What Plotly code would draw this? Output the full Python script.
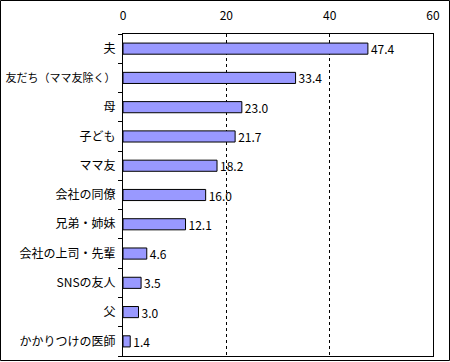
import plotly.graph_objects as go

categories = ["夫", "友だち（ママ友除く）", "母", "子ども", "ママ友", "会社の同僚",
              "兄弟・姉妹", "会社の上司・先輩", "SNSの友人", "父", "かかりつけの医師"]
values = [47.4, 33.4, 23.0, 21.7, 18.2, 16.0, 12.1, 4.6, 3.5, 3.0, 1.4]
x_ticks = [0, 20, 40, 60]

W, H = 450, 362
L, R, T, B = 123, 17, 34, 6
pw, ph = W - L - R, H - T - B

tick_text = [f"<span style='font-size:11px'>{c}</span>" if len(c) > 8 else c
             for c in categories]

fig = go.Figure(go.Bar(
    x=values, y=categories, orientation="h",
    marker=dict(color="#9999FF", line=dict(color="black", width=1)),
    text=[f"{v:.1f}" for v in values], textposition="outside",
    constraintext="none",
    textfont=dict(size=12, color="black"), cliponaxis=False,
))

fig.update_layout(
    width=W, height=H, margin=dict(l=L, r=R, t=T, b=B, autoexpand=False),
    paper_bgcolor="white", plot_bgcolor="white",
    font=dict(family="Noto Sans CJK JP", size=12, color="black"),
    bargap=0.62, showlegend=False,
    xaxis=dict(range=[0, 60], tickvals=x_ticks, side="top", showgrid=True,
               gridcolor="black", griddash="3px,3px", gridwidth=1,
               showline=True, linecolor="black", linewidth=1, mirror=True,
               ticks="", ticklabelstandoff=8, zeroline=False, automargin=False),
    yaxis=dict(autorange="reversed", showline=True, linecolor="black", linewidth=1,
               mirror=True, ticks="outside", ticklen=4, tickcolor="black",
               tickson="boundaries", showgrid=False, ticklabelstandoff=4,
               tickvals=categories, ticktext=tick_text, automargin=False),
)

# outer frame around the whole image
fig.add_shape(type="rect", xref="paper", yref="paper",
              x0=(0.5 - L) / pw, x1=(W - 0.5 - L) / pw,
              y0=(H - B - (H - 1.5)) / ph, y1=(H - B - 0.5) / ph,
              line=dict(color="black", width=1))

fig.write_html("out.html", config={"displayModeBar": False},
               post_script="document.body.style.margin='0';document.body.style.overflow='hidden';")
